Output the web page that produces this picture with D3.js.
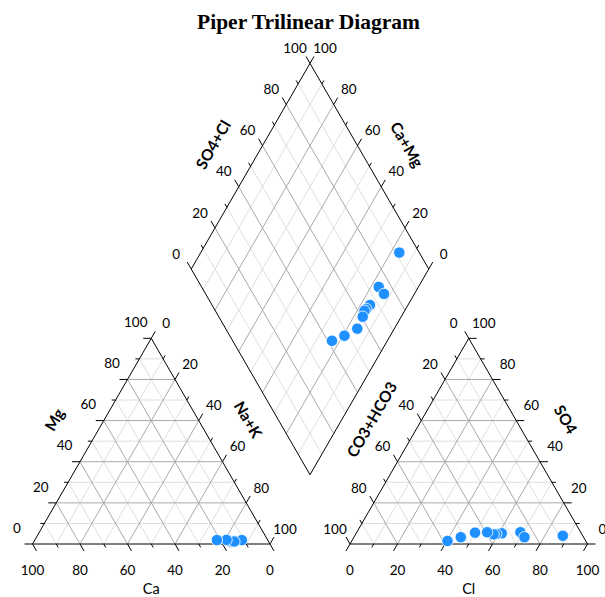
<!DOCTYPE html>
<html>
<head>
<meta charset="utf-8">
<script src="https://cdn.jsdelivr.net/npm/d3@7"></script>
<style>
  body { margin: 0; background: #fff; }
  text { font-family: Lato, "Open Sans", sans-serif; fill: #000; }
</style>
</head>
<body>
<script>
// sample compositions in percent (cations and anions each sum to 100)
var ca   = [14.8, 15.5, 10.9, 14.5, 15.3, 15.8, 14.8, 14.4, 17.3, 21.4];
var mg   = [1.6, 1.2, 1.9, 1.5, 1.3, 1.1, 1.4, 1.2, 2.0, 1.9];
var nak  = [83.6, 83.3, 87.2, 84.0, 83.4, 83.1, 83.8, 84.4, 80.7, 76.7];
var hco3 = [8.4, 25.4, 24.9, 33.5, 36.0, 37.2, 39.4, 44.6, 51.7, 58.2];
var so4  = [4.0, 5.7, 3.3, 5.2, 4.9, 4.7, 5.7, 5.5, 3.3, 1.5];
var cl   = [87.6, 68.9, 71.8, 61.3, 59.1, 58.1, 54.9, 49.9, 45.0, 40.3];

// tick values and the ones that carry a label
var tickValues = [0, 10, 20, 30, 40, 50, 60, 70, 80, 90, 100];
var labelValues = [0, 20, 40, 60, 80, 100];
var gridValues = [10, 20, 30, 40, 50, 60, 70, 80, 90];

// layout
var width = 605, height = 597;
var side = 237.5, h = side * Math.sqrt(3) / 2;
var baseY = 544, gap = 80;
var left0 = 32.5, right0 = left0 + side + gap;
var midX = left0 + side + gap / 2;
var diaBottom = baseY - (gap / 2) * Math.sqrt(3);
var diaTop = diaBottom - 2 * h;

var svg = d3.select("body").append("svg")
    .attr("width", width)
    .attr("height", height);

// scales: position along each triangle base and height above it
var xCat = d3.scaleLinear().domain([0, 100]).range([left0, left0 + side]);
var xAn = d3.scaleLinear().domain([0, 100]).range([right0, right0 + side]);
var yTri = d3.scaleLinear().domain([0, 100]).range([baseY, baseY - h]);
// diamond: x from (Na+K) - (CO3+HCO3), y from their sum
var xDia = d3.scaleLinear().domain([-100, 100]).range([midX - side / 2, midX + side / 2]);
var yDia = d3.scaleLinear().domain([0, 200]).range([diaTop, diaBottom]);

function cation(c, m, n) {
  var t = c + m + n;
  c = c * 100 / t; m = m * 100 / t; n = n * 100 / t;
  return [xCat(n + m / 2), yTri(m)];
}
function anion(b, s, l) {
  var t = b + s + l;
  b = b * 100 / t; s = s * 100 / t; l = l * 100 / t;
  return [xAn(l + s / 2), yTri(s)];
}
function diamond(n, b) {
  return [xDia(n - b), yDia(n + b)];
}

var majorColor = "#a9a9a9", minorColor = "#dedede";
function gridColor(v) { return v % 20 === 0 ? majorColor : minorColor; }

// ---- grid lines ----
var grid = [];
gridValues.forEach(function(v) {
  grid.push({v: v, a: cation(v, 0, 100 - v), b: cation(v, 100 - v, 0)});
  grid.push({v: v, a: cation(100 - v, v, 0), b: cation(0, v, 100 - v)});
  grid.push({v: v, a: cation(100 - v, 0, v), b: cation(0, 100 - v, v)});
  grid.push({v: v, a: anion(v, 100 - v, 0), b: anion(v, 0, 100 - v)});
  grid.push({v: v, a: anion(100 - v, v, 0), b: anion(0, v, 100 - v)});
  grid.push({v: v, a: anion(100 - v, 0, v), b: anion(0, 100 - v, v)});
  grid.push({v: v, a: diamond(v, 0), b: diamond(v, 100)});
  grid.push({v: v, a: diamond(0, v), b: diamond(100, v)});
});
// minor lines first so major lines sit on top
grid.sort(function(p, q) { return (p.v % 20 === 0) - (q.v % 20 === 0); });

svg.append("g").selectAll("line")
    .data(grid)
    .enter().append("line")
    .attr("x1", d => d.a[0]).attr("y1", d => d.a[1])
    .attr("x2", d => d.b[0]).attr("y2", d => d.b[1])
    .attr("stroke", d => gridColor(d.v))
    .attr("stroke-width", 1);

// ---- outlines ----
var outlines = [
  [cation(100, 0, 0), cation(0, 0, 100), cation(0, 100, 0)],
  [anion(100, 0, 0), anion(0, 0, 100), anion(0, 100, 0)],
  [diamond(0, 0), diamond(100, 0), diamond(100, 100), diamond(0, 100)]
];
svg.append("g").selectAll("path")
    .data(outlines)
    .enter().append("path")
    .attr("d", d => "M" + d.join("L") + "Z")
    .attr("fill", "none")
    .attr("stroke", "#000")
    .attr("stroke-width", 1);

// ---- axes: ticks and labels ----
var s60 = Math.sqrt(3) / 2;
var axes = [
  {pos: v => cation(v, 0, 100 - v), dir: [0.5, s60], label: "below"},
  {pos: v => cation(100 - v, v, 0), dir: [-1, 0], label: [-15.5, -16]},
  {pos: v => cation(0, 100 - v, v), dir: [0.5, -s60], label: [15, -15]},
  {pos: v => anion(100 - v, 0, v), dir: [-0.5, s60], label: "below"},
  {pos: v => anion(v, 100 - v, 0), dir: [-0.5, -s60], label: [-15, -15]},
  {pos: v => anion(0, v, 100 - v), dir: [1, 0], label: [15, -15]},
  {pos: v => diamond(0, 100 - v), dir: [-0.5, -s60], label: [-15, -15]},
  {pos: v => diamond(100 - v, 0), dir: [0.5, -s60], label: [15, -15]}
];

var tickG = svg.append("g");
var labelG = svg.append("g");
axes.forEach(function(ax) {
  tickG.selectAll(null)
      .data(tickValues)
      .enter().append("line")
      .attr("x1", v => ax.pos(v)[0])
      .attr("y1", v => ax.pos(v)[1])
      .attr("x2", v => ax.pos(v)[0] + ax.dir[0] * (v % 20 === 0 ? 8 : 4))
      .attr("y2", v => ax.pos(v)[1] + ax.dir[1] * (v % 20 === 0 ? 8 : 4))
      .attr("stroke", "#000")
      .attr("stroke-width", 1);

  labelG.selectAll(null)
      .data(labelValues)
      .enter().append("text")
      .attr("x", v => ax.label === "below" ? ax.pos(v)[0] : ax.pos(v)[0] + ax.label[0])
      .attr("y", v => ax.label === "below" ? 570 : ax.pos(v)[1] + ax.label[1])
      .attr("dy", "0.35em")
      .attr("text-anchor", "middle")
      .style("font-size", "13.5px")
      .text(v => v);
});

// ---- axis titles ----
function midPoint(p, q) { return [(p[0] + q[0]) / 2, (p[1] + q[1]) / 2]; }
var off = 43;
var titles = [
  {text: "Mg", at: midPoint(cation(100, 0, 0), cation(0, 100, 0)), n: [-s60, -0.5], rot: -60},
  {text: "Na+K", at: midPoint(cation(0, 0, 100), cation(0, 100, 0)), n: [s60, -0.5], rot: 60},
  {text: "CO3+HCO3", at: midPoint(anion(100, 0, 0), anion(0, 100, 0)), n: [-s60, -0.5], rot: -60},
  {text: "SO4", at: midPoint(anion(0, 0, 100), anion(0, 100, 0)), n: [s60, -0.5], rot: 60},
  {text: "SO4+Cl", at: midPoint(diamond(0, 100), diamond(0, 0)), n: [-s60, -0.5], rot: -60},
  {text: "Ca+Mg", at: midPoint(diamond(100, 0), diamond(0, 0)), n: [s60, -0.5], rot: 60}
];
svg.append("g").selectAll("text")
    .data(titles)
    .enter().append("text")
    .attr("transform", d => "translate(" + (d.at[0] + d.n[0] * off) + "," + (d.at[1] + d.n[1] * off) + ") rotate(" + d.rot + ")")
    .attr("dy", "0.35em")
    .attr("text-anchor", "middle")
    .style("font-size", "15.5px")
    .style("font-weight", "bold")
    .text(d => d.text);

svg.append("text")
    .attr("x", xCat(50)).attr("y", 589).attr("dy", "0.35em")
    .attr("text-anchor", "middle")
    .style("font-size", "14.5px")
    .text("Ca");
svg.append("text")
    .attr("x", xAn(50)).attr("y", 589).attr("dy", "0.35em")
    .attr("text-anchor", "middle")
    .style("font-size", "14.5px")
    .text("Cl");

// ---- title ----
svg.append("text")
    .attr("x", 308.5).attr("y", 29)
    .attr("text-anchor", "middle")
    .style("font-family", "'Liberation Serif', 'Times New Roman', serif")
    .style("font-size", "21.5px")
    .style("font-weight", "bold")
    .text("Piper Trilinear Diagram");

// ---- points ----
var idx = d3.range(ca.length);
var pts = [];
idx.forEach(function(i) {
  pts.push(cation(ca[i], mg[i], nak[i]));
  pts.push(anion(hco3[i], so4[i], cl[i]));
  pts.push(diamond(nak[i] * 100 / (ca[i] + mg[i] + nak[i]), hco3[i] * 100 / (hco3[i] + so4[i] + cl[i])));
});
svg.append("g").selectAll("circle")
    .data(pts)
    .enter().append("circle")
    .attr("cx", d => d[0])
    .attr("cy", d => d[1])
    .attr("r", 5.7)
    .attr("fill", "#1e90ff")
    .attr("stroke", "#fff")
    .attr("stroke-width", 0.8);
</script>
</body>
</html>
